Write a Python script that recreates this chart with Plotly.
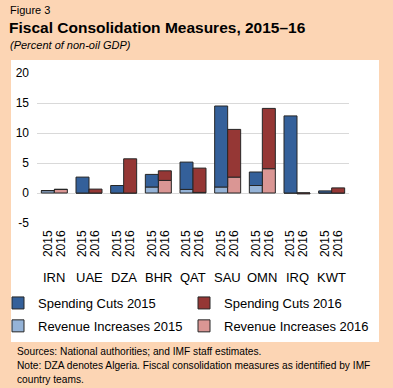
import plotly.graph_objects as go

countries = ["IRN", "UAE", "DZA", "BHR", "QAT", "SAU", "OMN", "IRQ", "KWT"]
years = ["2015", "2016"]
spending_2015 = [0.0, 2.65, 1.25, 2.1, 4.55, 13.5, 2.25, 12.85, 0.35]
spending_2016 = [0.0, 0.65, 5.7, 1.6, 4.05, 7.95, 10.05, -0.15, 0.85]
revenue_2015 = [0.4, 0.0, 0.0, 1.0, 0.6, 1.0, 1.25, 0.0, 0.0]
revenue_2016 = [0.6, 0.0, 0.0, 2.1, 0.1, 2.65, 4.05, 0.0, 0.0]
y_ticks = [-5, 0, 5, 10, 15, 20]
y_ticktext = ["-5", "0", "5", "10", "15", "20"]
source_lines = [
    "Sources: National authorities; and IMF staff estimates.",
    "Note: DZA denotes Algeria. Fiscal consolidation measures as identified by IMF",
    "country teams.",
]

C_SC15 = "#34609A"
C_SC16 = "#953735"
C_RI15 = "#95B3D7"
C_RI16 = "#DA9694"
OUTLINE = "#262626"
PEACH = "#FCD5B4"

W_FIG, H_FIG = 393, 388
L, R, T, B = 37, 349, 73, 223
PW, PH = R - L, B - T


def px(x):
    return (x - L) / PW


def py(y):
    return (B - y) / PH


BAR_W = 0.375
OFF = BAR_W / 2
idx = list(range(len(countries)))
x15 = [i - OFF for i in idx]
x16 = [i + OFF for i in idx]

fig = go.Figure()


def add(name, xs, ys, color, legend, rank):
    fig.add_trace(go.Bar(
        name=name, x=xs, y=ys, width=BAR_W,
        marker=dict(color=color, line=dict(color=OUTLINE, width=1)),
        legend=legend, legendgroup=name, legendrank=rank, hoverinfo="skip",
    ))


add("Revenue Increases 2015", x15, revenue_2015, C_RI15, "legend", 2)
add("Revenue Increases 2016", x16, revenue_2016, C_RI16, "legend2", 2)
add("Spending Cuts 2015", x15, spending_2015, C_SC15, "legend", 1)
add("Spending Cuts 2016", x16, spending_2016, C_SC16, "legend2", 1)

tickvals = []
ticktext = []
for a, b in zip(x15, x16):
    tickvals += [a, b]
    ticktext += years

font = "Liberation Sans, Arial, sans-serif"

annotations = [
    dict(text="Figure 3", x=px(8), y=py(10), xanchor="left", yanchor="middle",
         font=dict(size=11, family=font, color="black")),
    dict(text="<b>Fiscal Consolidation Measures, 2015–16</b>", x=px(7), y=py(27),
         xanchor="left", yanchor="middle",
         font=dict(size=15.5, family=font, color="black")),
    dict(text="<i>(Percent of non-oil GDP)</i>", x=px(8), y=py(45), xanchor="left", yanchor="middle",
         font=dict(size=11, family=font, color="black")),
]
for k, line in enumerate(source_lines):
    annotations.append(dict(text=line, x=px(15), y=py(351.5 + 14 * k), xanchor="left",
                            yanchor="middle", align="left",
                            font=dict(size=10.2, family=font, color="black")))
for i, c in enumerate(countries):
    annotations.append(dict(text=c, x=i, xref="x", y=py(277), yref="paper",
                            xanchor="center", yanchor="middle",
                            font=dict(size=13, family=font, color="black")))
for a in annotations:
    a.setdefault("xref", "paper")
    a.setdefault("yref", "paper")
    a["showarrow"] = False

legend_common = dict(orientation="v", xanchor="left", yanchor="top",
                     font=dict(size=13, family=font, color="black"),
                     bgcolor="rgba(0,0,0,0)", traceorder="grouped", tracegroupgap=3)

fig.update_layout(
    width=W_FIG, height=H_FIG,
    margin=dict(l=L, r=W_FIG - R, t=T, b=H_FIG - B, pad=0, autoexpand=False),
    paper_bgcolor=PEACH, plot_bgcolor="white",
    barmode="relative",
    showlegend=True,
    legend=dict(x=px(-2), y=py(288), **legend_common),
    legend2=dict(x=px(184), y=py(288), **legend_common),
    xaxis=dict(range=[-0.5, len(countries) - 0.5], tickmode="array", tickvals=tickvals,
               ticktext=ticktext, tickangle=-90, showgrid=False, zeroline=False,
               showline=False, ticks="", ticklabelstandoff=4, automargin=False,
               tickfont=dict(size=12, family=font, color="black")),
    yaxis=dict(range=[-5, 20], tickmode="array", tickvals=y_ticks, ticktext=y_ticktext,
               showgrid=True, automargin=False,
               gridcolor="#D9D9D9", gridwidth=1, zeroline=True, zerolinecolor="#D9D9D9",
               zerolinewidth=1, showline=False, ticks="", ticklabelstandoff=7,
               tickfont=dict(size=12, family=font, color="black")),
    shapes=[dict(type="rect", xref="paper", yref="paper", x0=px(11), x1=px(379),
                 y0=py(342), y1=py(60), fillcolor="white", line=dict(width=0), layer="below")],
    annotations=annotations,
)

fig.write_html("out.html", config={"displayModeBar": False},
               post_script="document.body.style.margin='0';document.body.style.padding='0';")
